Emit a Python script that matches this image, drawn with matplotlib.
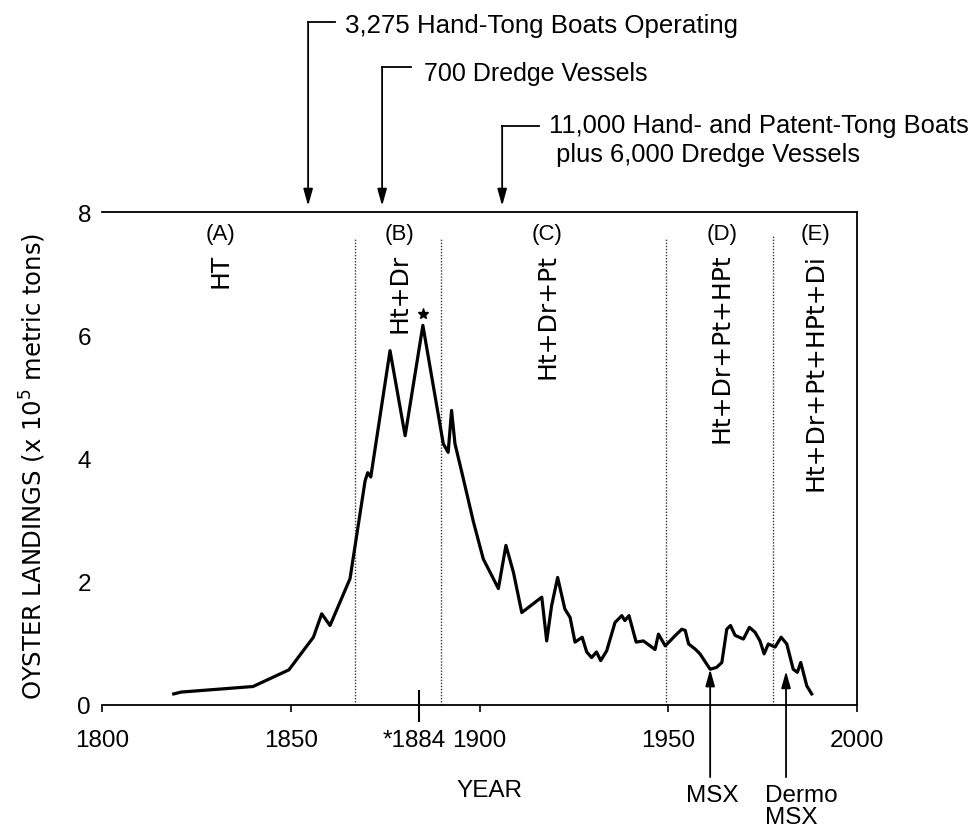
import matplotlib
matplotlib.use("Agg")
import matplotlib.pyplot as plt
from matplotlib.transforms import ScaledTranslation

# ---------------- data ----------------
years = [1819, 1821, 1840, 1849.5, 1856, 1858.2, 1860.4, 1865.7, 1869.7, 1870.4,
         1871.2, 1876.3, 1880.3, 1885, 1890.4, 1891.7, 1892.6, 1893.5, 1895.3, 1898.4,
         1901.0, 1905.0, 1907.0, 1909.0, 1911.2, 1916.5, 1917.8, 1919.1, 1920.7, 1922.6,
         1924.0, 1925.3, 1927.2, 1928.4, 1929.7, 1931.0, 1932.1, 1933.7, 1935.9, 1937.7,
         1938.5, 1939.6, 1941.5, 1943.4, 1945.2, 1946.5, 1947.4, 1949.2, 1951.9, 1953.6,
         1954.5, 1955.4, 1957.1, 1958.4, 1961.1, 1962.8, 1964.2, 1965.5, 1966.5, 1967.7,
         1969.9, 1971.5, 1973.0, 1974.3, 1975.4, 1976.5, 1978.3, 1979.9, 1981.4, 1983.1,
         1984.2, 1985.1, 1986.7, 1988.0]
landings = [0.18, 0.21, 0.30, 0.57, 1.10, 1.48, 1.29, 2.05, 3.64, 3.77,
            3.70, 5.75, 4.37, 6.16, 4.24, 4.10, 4.78, 4.24, 3.78, 2.97,
            2.37, 1.89, 2.59, 2.15, 1.50, 1.75, 1.04, 1.61, 2.07, 1.56,
            1.42, 1.02, 1.10, 0.86, 0.77, 0.86, 0.72, 0.88, 1.34, 1.45,
            1.37, 1.45, 1.02, 1.04, 0.96, 0.90, 1.15, 0.96, 1.13, 1.23,
            1.21, 0.99, 0.91, 0.83, 0.58, 0.61, 0.69, 1.23, 1.29, 1.13,
            1.07, 1.26, 1.18, 1.04, 0.83, 0.99, 0.94, 1.10, 0.99, 0.58,
            0.53, 0.69, 0.31, 0.18]

tick_years = [1800, 1850, 1884, 1900, 1950, 2000]
tick_labels = ["1800", "1850", "*1884", "1900", "1950", "2000"]
y_ticks = [0, 2, 4, 6, 8]

period_bounds = [1867.0, 1889.8, 1949.4, 1977.7]
period_letters = ["(A)", "(B)", "(C)", "(D)", "(E)"]
period_gear = ["HT", "Ht+Dr", "Ht+Dr+Pt", "Ht+Dr+Pt+HPt", "Ht+Dr+Pt+HPt+Di"]
period_centers = [1831.3, 1878.9, 1917.9, 1964.2, 1988.9]

top_notes = ["3,275 Hand-Tong Boats Operating",
             "700 Dredge Vessels",
             "11,000 Hand- and Patent-Tong Boats\n plus 6,000 Dredge Vessels"]
top_note_years = [1854.6, 1874.2, 1906.0]

disease_years = [1961.1, 1981.2]
disease_labels = ["MSX", "Dermo\nMSX"]

# ---------------- style ----------------
plt.rcParams['font.family'] = ['Liberation Sans', 'DejaVu Sans']
plt.rcParams['mathtext.fontset'] = 'custom'
plt.rcParams['mathtext.rm'] = 'DejaVu Sans'
plt.rcParams['mathtext.it'] = 'DejaVu Sans:italic'

W, H = 975, 828
fig = plt.figure(figsize=(W / 100, H / 100), dpi=100)
ax = fig.add_axes([102 / W, 1 - 706 / H, 755 / W, 493 / H])
ax.set_xlim(1800, 2000)
ax.set_ylim(0, 8)

ax.plot(years, landings, color='black', lw=2.3, solid_joinstyle='round', zorder=3)

for s in ['top', 'right', 'bottom']:
    ax.spines[s].set_linewidth(1.3)
ax.spines['left'].set_visible(False)

ax.set_xticks(tick_years)
ax.set_xticklabels(tick_labels)
ax.tick_params(axis='x', direction='out', length=5, width=1.2, pad=12, labelsize=17.5)
ax.set_yticks(y_ticks)
ax.set_yticklabels([str(v) for v in y_ticks])
ax.tick_params(axis='y', length=0, pad=8, labelsize=17.5)
lbl = ax.get_xticklabels()[2]
lbl.set_transform(lbl.get_transform() + ScaledTranslation(-0.05, 0, fig.dpi_scale_trans))

# long tick at 1884
ax.plot([1884, 1884], [-0.26, 0.23], color='black', lw=1.5, clip_on=False)

# period boundaries
for i, b in enumerate(period_bounds):
    top = 7.61 if i == 3 else 7.56
    ax.plot([b, b], [0, top], color='#333333', lw=1.0, ls=(0, (1, 1.2)), zorder=2)

for x, letter, gear in zip(period_centers, period_letters, period_gear):
    ax.text(x, 7.65, letter, ha='center', va='center', fontsize=16)
    ax.text(x, 7.34, gear, ha='center', va='top', rotation=90, fontsize=18,
            family='DejaVu Sans')

# star above peak
ax.plot([1885], [6.35], marker='*', color='black', markersize=8, zorder=4)

# top annotations
ytops = [11.08, 10.35, 9.40]
hends = [1861.7, 1881.9, 1915.8]
text_x = [1864.4, 1885.2, 1918.4]
text_y = [11.03, 10.26, 9.18]
note_sizes = [18.6, 18, 18.4]
for x, yt, he, tx, ty, note, fs in zip(top_note_years, ytops, hends, text_x, text_y,
                                       top_notes, note_sizes):
    ax.plot([he, x], [yt, yt], color='black', lw=1.3, clip_on=False)
    ax.annotate('', xy=(x, 8.10), xytext=(x, yt),
                arrowprops=dict(arrowstyle='-|>,head_length=1.0,head_width=0.28',
                                color='black', lw=1.3, shrinkA=0, shrinkB=0),
                annotation_clip=False)
    ax.text(tx, ty, note, ha='left', va='center', fontsize=fs, linespacing=1.25)

# disease arrows
tips = [0.58, 0.55]
for x, tip in zip(disease_years, tips):
    ax.annotate('', xy=(x, tip), xytext=(x, -1.17),
                arrowprops=dict(arrowstyle='-|>,head_length=1.0,head_width=0.28',
                                color='black', lw=1.3, shrinkA=0, shrinkB=0),
                annotation_clip=False)
ax.text(1961.6, -1.56, disease_labels[0], ha='center', va='baseline', fontsize=17.5)
d1, d2 = disease_labels[1].split("\n")
ax.text(1975.5, -1.55, d1, ha='left', va='baseline', fontsize=17.5)
ax.text(1975.5, -1.91, d2, ha='left', va='baseline', fontsize=17.5)

# axis labels
ax.text(1902.5, -1.48, "YEAR", ha='center', va='baseline', fontsize=17.5)
fig.text(33 / W, 1 - 466 / H, r"OYSTER LANDINGS (x 10$^5$ metric tons)",
         rotation=90, ha='center', va='center', fontsize=17.5, family='DejaVu Sans')

fig.savefig("out.png", dpi=100)
